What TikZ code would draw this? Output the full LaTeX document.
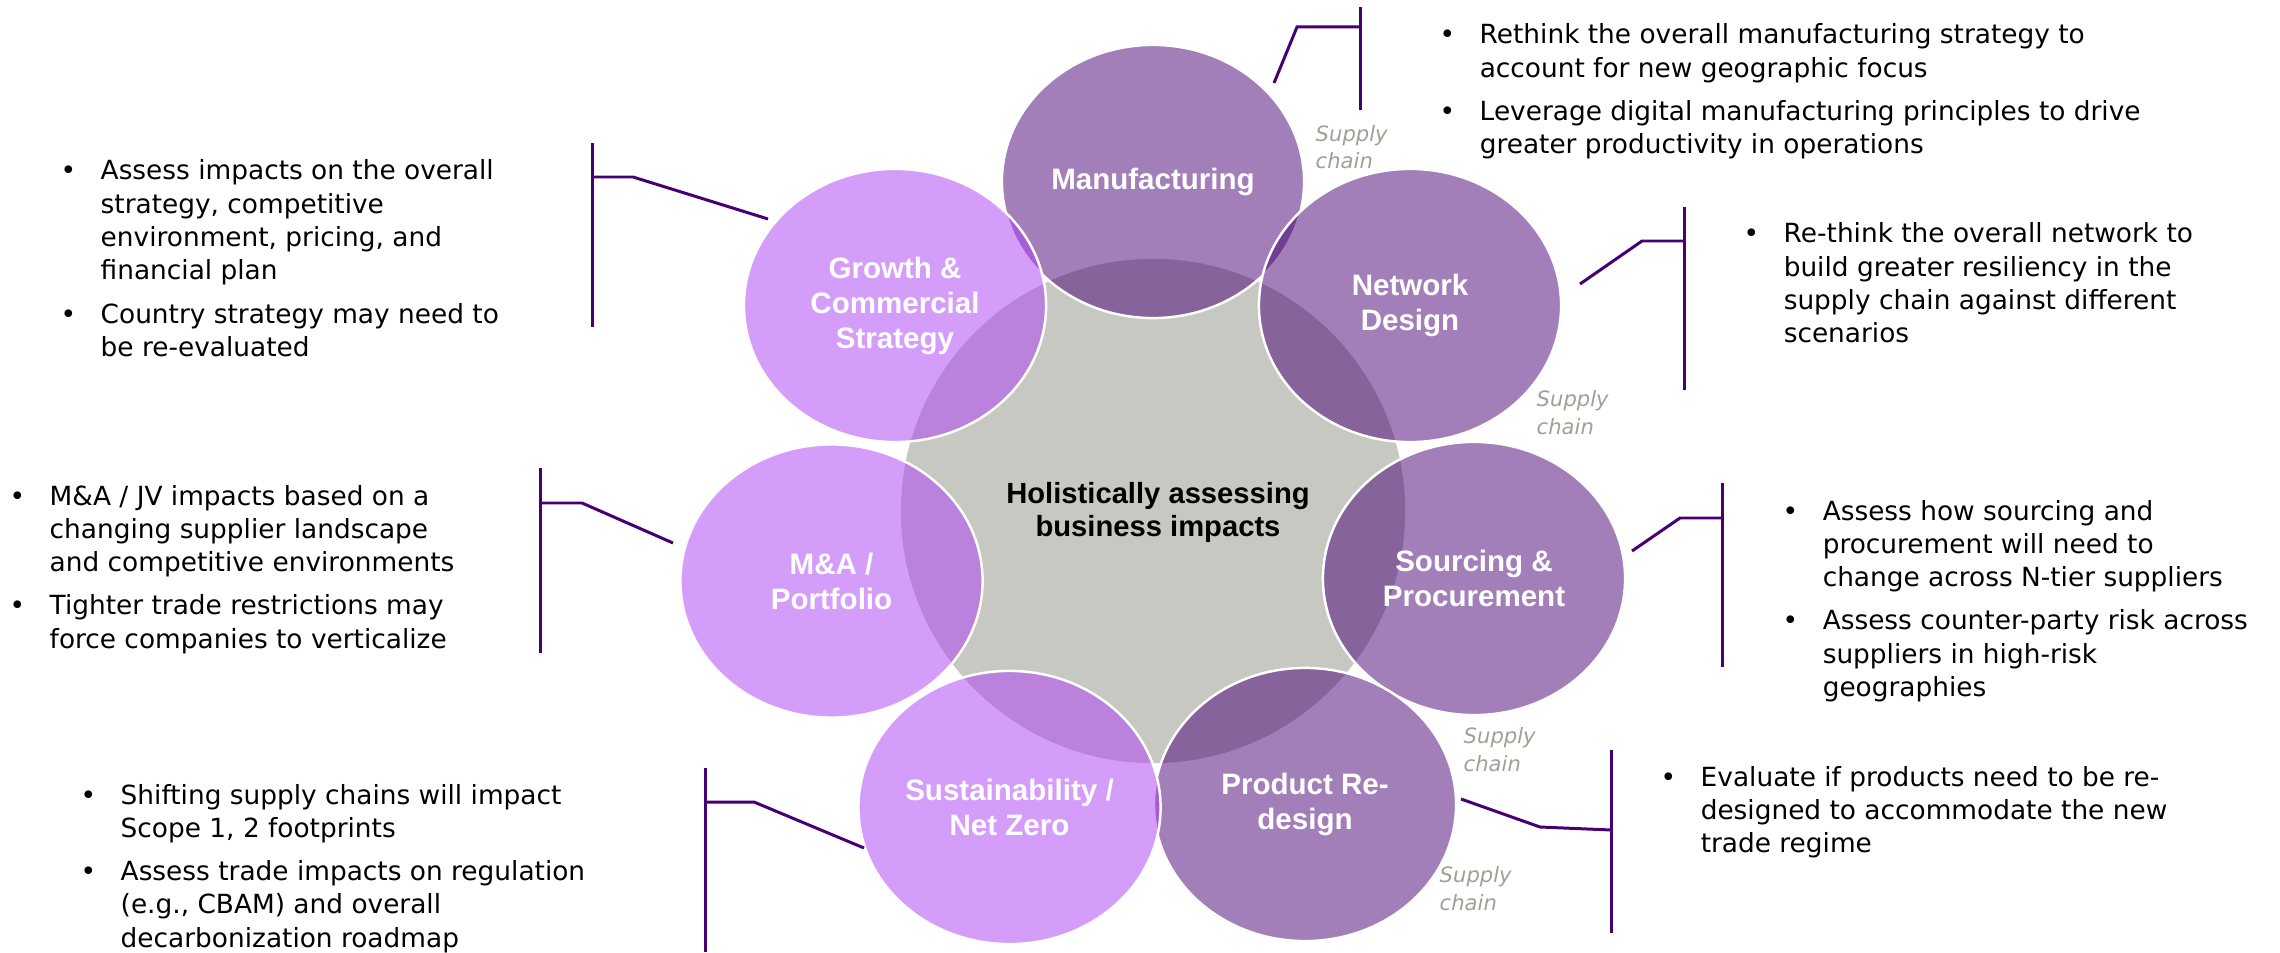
\documentclass[tikz,border=0pt]{standalone}
\usepackage{fontspec}
\setmainfont{DejaVu Sans}
\newfontfamily\lblfont{Liberation Sans}
\usetikzlibrary{shapes.geometric}
\definecolor{dpurple}{RGB}{70,0,115}
\definecolor{lpurple}{RGB}{173,61,247}
\definecolor{cgray}{RGB}{200,200,195}
\definecolor{scgray}{RGB}{160,160,150}
\newcommand{\bltab}[1]{\begin{tabular}[t]{@{}p{0.40cm}@{}l@{}}#1\end{tabular}}
\begin{document}
\begin{tikzpicture}[x=0.01cm,y=-0.01cm,
 bub/.style={ellipse, minimum width=3.02cm, minimum height=2.73cm, inner sep=0pt,
   draw=white, line width=0.7pt, fill opacity=0.5, text opacity=1, text=white,
   align=center, font=\lblfont\bfseries\fontsize{8.4}{9.96}\selectfont},
 darkbub/.style={bub, fill=dpurple},
 lightbub/.style={bub, fill=lpurple},
 conn/.style={draw=dpurple, line width=0.85pt},
 body/.style={anchor=base west, inner sep=0pt, font=\fontsize{7.5}{9.47}\selectfont},
 sclbl/.style={anchor=base west, inner sep=0pt, text=scgray, align=left,
   font=\itshape\fontsize{6}{7.7}\selectfont},
]
\fill[white] (0,0) rectangle (2280,952);
\useasboundingbox (0,0) rectangle (2280,952);

% core
\node[circle, fill=cgray, minimum size=5.04cm, inner sep=0pt] (core) at (1153,511) {};

% bubbles
\node[darkbub] (mfg) at (1153,181.5) {Manufacturing};
\node[darkbub] (net) at (1410,305.5) {Network\\Design};
\node[darkbub] (src) at (1474,578.5) {Sourcing \&\\Procurement};
\node[darkbub] (prod) at (1305,804.5) {Product Re-\\design};
\node[lightbub] (sust) at (1009.5,807.5) {Sustainability /\\Net Zero};
\node[lightbub] (ma) at (831.5,581) {M\&A /\\Portfolio};
\node[lightbub] (grow) at (895,305.5) {Growth \&\\Commercial\\Strategy};

\node[align=center, inner sep=0pt, font=\lblfont\bfseries\fontsize{8.3}{9.4}\selectfont]
  (corelbl) at (1158,512) {Holistically assessing\\business impacts};

% supply chain labels (base = baseline of last line)
\node[sclbl] (sc1) at (1315,169) {Supply\\chain};
\node[sclbl] (sc2) at (1536,434) {Supply\\chain};
\node[sclbl] (sc3) at (1463,771) {Supply\\chain};
\node[sclbl] (sc4) at (1439,910) {Supply\\chain};

% connector coordinates
\coordinate (mA) at (1274,83);  \coordinate (mB) at (1297,27);  \coordinate (mC) at (1360,27);
\coordinate (mT) at (1360,7);   \coordinate (mD) at (1360,110);
\coordinate (nA) at (1580,284); \coordinate (nB) at (1642,241); \coordinate (nC) at (1684,241);
\coordinate (nT) at (1684,207); \coordinate (nD) at (1684,390);
\coordinate (sA) at (1632,551); \coordinate (sB) at (1680,518); \coordinate (sC) at (1722,518);
\coordinate (sT) at (1722,483); \coordinate (sD) at (1722,667);
\coordinate (pA) at (1461,799); \coordinate (pB) at (1540,827); \coordinate (pC) at (1611,830);
\coordinate (pT) at (1611,750); \coordinate (pD) at (1611,933);
\coordinate (gA) at (768,219);  \coordinate (gB) at (633,177);  \coordinate (gC) at (592,177);
\coordinate (gT) at (592,143);  \coordinate (gD) at (592,327);
\coordinate (aA) at (673,543);  \coordinate (aB) at (582,503);  \coordinate (aC) at (540,503);
\coordinate (aT) at (540,468);  \coordinate (aD) at (540,653);
\coordinate (zA) at (864,848);  \coordinate (zB) at (754,802);  \coordinate (zC) at (705,802);
\coordinate (zT) at (705,768);  \coordinate (zD) at (705,952);

\draw[conn] (mA) -- (mB) -- (mC); \draw[conn] (mT) -- (mD);
\draw[conn] (nA) -- (nB) -- (nC); \draw[conn] (nT) -- (nD);
\draw[conn] (sA) -- (sB) -- (sC); \draw[conn] (sT) -- (sD);
\draw[conn] (pA) -- (pB) -- (pC); \draw[conn] (pT) -- (pD);
\draw[conn] (gA) -- (gB) -- (gC); \draw[conn] (gT) -- (gD);
\draw[conn] (aA) -- (aB) -- (aC); \draw[conn] (aT) -- (aD);
\draw[conn] (zA) -- (zB) -- (zC); \draw[conn] (zT) -- (zD);

% text blocks
\node[body] (gtxt) at (60,180) {\bltab{%
•& Assess impacts on the overall\\
 & strategy, competitive\\
 & environment, pricing, and\\
 & financial plan\\[2.85pt]
•& Country strategy may need to\\
 & be re-evaluated}};

\node[body] (mtxt) at (1439,44) {\bltab{%
•& Rethink the overall manufacturing strategy to\\
 & account for new geographic focus\\[2.85pt]
•& Leverage digital manufacturing principles to drive\\
 & greater productivity in operations}};

\node[body] (ntxt) at (1743,243) {\bltab{%
•& Re-think the overall network to\\
 & build greater resiliency in the\\
 & supply chain against different\\
 & scenarios}};

\node[body] (stxt) at (1782,520) {\bltab{%
•& Assess how sourcing and\\
 & procurement will need to\\
 & change across N-tier suppliers\\[2.85pt]
•& Assess counter-party risk across\\
 & suppliers in high-risk\\
 & geographies}};

\node[body] (ptxt) at (1660,786) {\bltab{%
•& Evaluate if products need to be re-\\
 & designed to accommodate the new\\
 & trade regime}};

\node[body] (atxt) at (9,505) {\bltab{%
•& M\&A / JV impacts based on a\\
 & changing supplier landscape\\
 & and competitive environments\\[2.85pt]
•& Tighter trade restrictions may\\
 & force companies to verticalize}};

\node[body] (ztxt) at (80,804) {\bltab{%
•& Shifting supply chains will impact\\
 & Scope 1, 2 footprints\\[2.85pt]
•& Assess trade impacts on regulation\\
 & (e.g., CBAM) and overall\\
 & decarbonization roadmap}};
\end{tikzpicture}
\end{document}
